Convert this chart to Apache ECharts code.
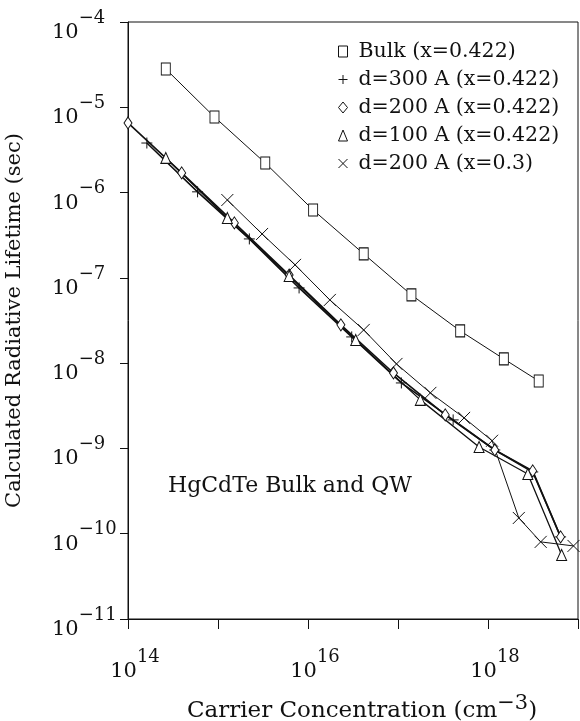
<!DOCTYPE html>
<html>
<head>
<meta charset="utf-8">
<script src="https://cdn.jsdelivr.net/npm/echarts@6/dist/echarts.min.js"></script>
<style>
html, body { margin: 0; padding: 0; background: #fff; }
#chart { width: 580px; height: 721px; }
</style>
</head>
<body>
<div id="chart"></div>
<script>
// values (carrier concentration cm^-3, lifetime s)
var bulkN = [2.63e14, 9.14e14, 3.35e15, 1.14e16, 4.16e16, 1.41e17, 4.91e17, 1.50e18, 3.66e18];
var bulkT = [2.81e-5, 7.69e-6, 2.22e-6, 6.25e-7, 1.91e-7, 6.31e-8, 2.39e-8, 1.12e-8, 6.18e-9];

var d300N = [1.62e14, 5.93e14, 2.23e15, 7.96e15, 3.06e16, 1.09e17, 4.10e17, 1.19e18, 3.14e18, 6.41e18];
var d300T = [3.81e-6, 1.02e-6, 2.86e-7, 7.62e-8, 2.03e-8, 5.86e-9, 2.16e-9, 9.59e-10, 5.30e-10, 9.18e-11];

var d200N = [1.00e14, 3.95e14, 1.52e15, 6.17e15, 2.32e16, 8.91e16, 3.35e17, 1.19e18, 3.14e18, 6.41e18];
var d200T = [6.55e-6, 1.70e-6, 4.41e-7, 1.08e-7, 2.81e-8, 7.67e-9, 2.47e-9, 9.59e-10, 5.45e-10, 9.18e-11];

var d100N = [2.63e14, 1.27e15, 6.17e15, 3.39e16, 1.77e17, 7.96e17, 2.77e18, 6.58e18];
var d100T = [2.55e-6, 5.04e-7, 1.05e-7, 1.87e-8, 3.71e-9, 1.04e-9, 5.02e-10, 5.64e-11];

var x03N = [1.27e15, 3.09e15, 7.18e15, 1.75e16, 4.16e16, 9.62e16, 2.29e17, 5.43e17, 1.11e18, 2.20e18, 3.85e18, 8.91e18];
var x03T = [8.18e-7, 3.27e-7, 1.42e-7, 5.51e-8, 2.45e-8, 9.79e-9, 4.48e-9, 2.28e-9, 1.23e-9, 1.53e-10, 8.02e-11, 7.19e-11];

var names = ['Bulk (x=0.422)', 'd=300 A (x=0.422)', 'd=200 A (x=0.422)', 'd=100 A (x=0.422)', 'd=200 A (x=0.3)'];

var FONT = 'DejaVu Serif';
var plusPath = 'path://M5,0L5,10M0,5L10,5';
var crossPath = 'path://M0,0L10,10M10,0L0,10';

function pairs(xs, ys) {
    return xs.map(function (x, i) { return [x, ys[i]]; });
}

function supRich() {
    return {
        b: { fontFamily: FONT, fontSize: 21, color: '#111', verticalAlign: 'bottom', lineHeight: 21 },
        s: { fontFamily: FONT, fontSize: 18, color: '#111', verticalAlign: 'top', lineHeight: 34 }
    };
}

function mkSeries(name, xs, ys, symbol, size, width) {
    return {
        name: name,
        type: 'line',
        data: pairs(xs, ys),
        symbol: symbol,
        symbolSize: size,
        showSymbol: true,
        animation: false,
        lineStyle: { color: '#111', width: width },
        itemStyle: { color: '#fff', borderColor: '#111', borderWidth: 1 }
    };
}

var chart = echarts.init(document.getElementById('chart'));

var option = {
    backgroundColor: '#fff',
    animation: false,
    grid: {
        left: 128, right: 2, top: 22, bottom: 102,
        show: true, borderColor: '#111', borderWidth: 1,
        outerBoundsMode: 'none'
    },
    legend: {
        orient: 'vertical',
        left: 331, top: 36,
        itemWidth: 9, itemHeight: 11, itemGap: 7,
        textStyle: { fontFamily: FONT, fontSize: 20.5, color: '#111', padding: [0, 0, 0, 6], lineHeight: 21 },
        data: [
            { name: names[0], icon: 'rect', itemStyle: { color: '#fff', borderColor: '#111', borderWidth: 1 } },
            { name: names[1], icon: plusPath, itemStyle: { color: 'none', borderColor: '#111', borderWidth: 1 } },
            { name: names[2], icon: 'diamond', itemStyle: { color: '#fff', borderColor: '#111', borderWidth: 1 } },
            { name: names[3], icon: 'triangle', itemStyle: { color: '#fff', borderColor: '#111', borderWidth: 1 } },
            { name: names[4], icon: crossPath, itemStyle: { color: 'none', borderColor: '#111', borderWidth: 1 } }
        ]
    },
    xAxis: {
        type: 'log',
        logBase: 10,
        min: 1e14,
        max: 1e19,
        splitNumber: 5,
        name: 'Carrier Concentration (cm{s|−3})',
        nameLocation: 'middle',
        nameGap: 74,
        nameTextStyle: {
            fontFamily: FONT, fontSize: 23, color: '#111',
            padding: [0, 0, 0, 18],
            rich: {
                s: { fontFamily: FONT, fontSize: 21, color: '#111', padding: [0, 0, 16, 0] }
            }
        },
        axisLine: { show: true, lineStyle: { color: '#111', width: 1 } },
        axisTick: { show: true, inside: false, length: 10, lineStyle: { color: '#111' } },
        splitLine: { show: false },
        axisLabel: {
            margin: 29,
            padding: [0, 0, 0, 14],
            formatter: function (v) {
                var e = Math.round(Math.log10(v));
                if (e % 2 !== 0) return '';
                return '{b|10}{s|' + e + '}';
            },
            rich: supRich()
        }
    },
    yAxis: {
        type: 'log',
        logBase: 10,
        min: 1e-11,
        max: 1e-4,
        splitNumber: 7,
        name: 'Calculated Radiative Lifetime (sec)',
        nameLocation: 'middle',
        nameGap: 103,
        nameTextStyle: { fontFamily: FONT, fontSize: 21, color: '#111' },
        axisLine: { show: true, lineStyle: { color: '#111', width: 1 } },
        axisTick: { show: true, inside: false, length: 8, lineStyle: { color: '#111' } },
        splitLine: { show: false },
        axisLabel: {
            margin: 76,
            align: 'left',
            padding: [8, 0, 0, 0],
            formatter: function (v) {
                var e = Math.round(Math.log10(v));
                return '{b|10}{s|−' + (-e) + '}';
            },
            rich: supRich()
        }
    },
    graphic: [{
        type: 'text',
        left: 168,
        top: 475,
        style: { text: 'HgCdTe Bulk and QW', fontFamily: FONT, fontSize: 22, fill: '#111' }
    }],
    series: [
        mkSeries(names[0], bulkN, bulkT, 'rect', [9, 12], 1),
        mkSeries(names[1], d300N, d300T, plusPath, 11, 1.6),
        mkSeries(names[2], d200N, d200T, 'diamond', [8, 12], 1.6),
        mkSeries(names[3], d100N, d100T, 'triangle', [10, 11], 1.3),
        mkSeries(names[4], x03N, x03T, crossPath, 12, 1)
    ]
};

chart.setOption(option);
</script>
</body>
</html>
